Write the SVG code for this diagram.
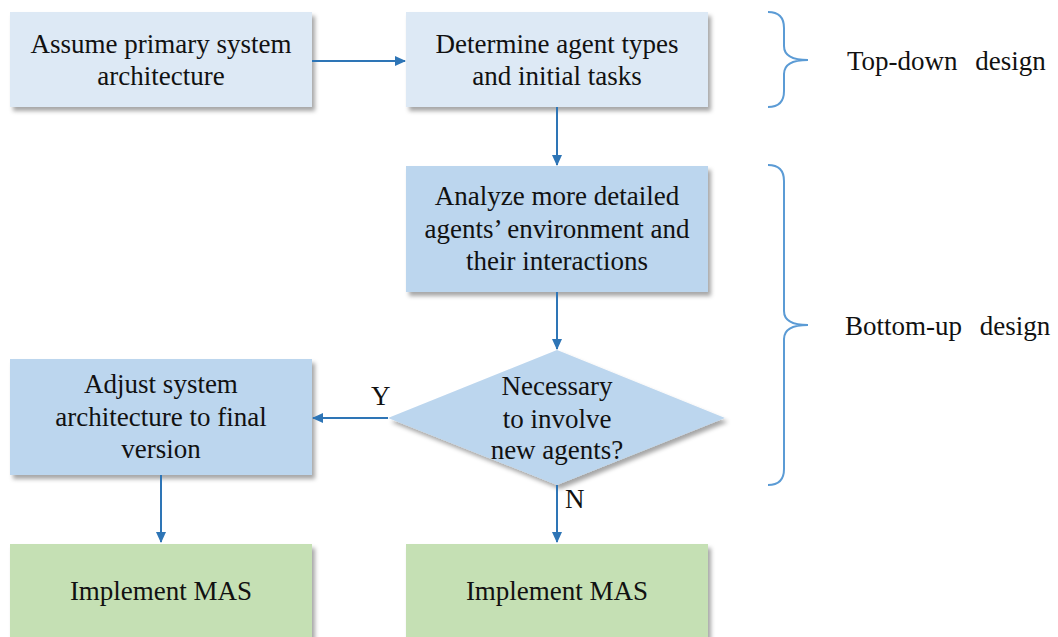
<svg xmlns="http://www.w3.org/2000/svg" width="1058" height="637" viewBox="0 0 1058 637">
  <style>
    text { font-family: 'Liberation Serif', 'Times New Roman', Times, 'DejaVu Serif', serif; font-size: 27px; fill: #111; }
    .t { text-anchor: middle; }
    .light { fill: #dde9f5; }
    .mid { fill: #bcd6ee; }
    .green { fill: #c5e0b4; }
    .conn { stroke: #2e75b6; stroke-width: 2; fill: none; marker-end: url(#arr); }
    .brace { stroke: #5b9bd5; stroke-width: 2; fill: none; }
    .phase { word-spacing: 11px; }
  </style>
  <defs>
    <filter id="sh" x="-10%" y="-10%" width="125%" height="130%">
      <feDropShadow dx="3" dy="4" stdDeviation="2" flood-color="#000" flood-opacity="0.35"/>
    </filter>
    <marker id="arr" markerWidth="12" markerHeight="12" refX="10" refY="5" orient="auto" markerUnits="userSpaceOnUse">
      <path d="M0,0 L11,5 L0,10 Z" fill="#2e75b6"/>
    </marker>
  </defs>

  <!-- process boxes -->
  <g id="assume">
    <rect class="light" x="10" y="12" width="302" height="95" filter="url(#sh)"/>
    <text class="t" x="161" y="53">Assume primary system</text>
    <text class="t" x="161" y="85">architecture</text>
  </g>
  <g id="determine">
    <rect class="light" x="406" y="12" width="302" height="95" filter="url(#sh)"/>
    <text class="t" x="557" y="53">Determine agent types</text>
    <text class="t" x="557" y="85">and initial tasks</text>
  </g>
  <g id="analyze">
    <rect class="mid" x="406" y="166" width="302" height="126" filter="url(#sh)"/>
    <text class="t" x="557" y="205">Analyze more detailed</text>
    <text class="t" x="557" y="238">agents’ environment and</text>
    <text class="t" x="557" y="270">their interactions</text>
  </g>
  <g id="decision">
    <polygon class="mid" points="557,350 725,418 557,485 388,418" filter="url(#sh)"/>
    <text class="t" x="557" y="395">Necessary</text>
    <text class="t" x="557" y="428">to involve</text>
    <text class="t" x="557" y="459">new agents?</text>
  </g>
  <g id="adjust">
    <rect class="mid" x="10" y="359" width="302" height="116" filter="url(#sh)"/>
    <text class="t" x="161" y="393">Adjust system</text>
    <text class="t" x="161" y="426">architecture to final</text>
    <text class="t" x="161" y="458">version</text>
  </g>
  <g id="implement-left">
    <rect class="green" x="10" y="544" width="302" height="100" filter="url(#sh)"/>
    <text class="t" x="161" y="600">Implement MAS</text>
  </g>
  <g id="implement-right">
    <rect class="green" x="406" y="544" width="302" height="100" filter="url(#sh)"/>
    <text class="t" x="557" y="600">Implement MAS</text>
  </g>

  <!-- connectors -->
  <g id="connectors">
    <line class="conn" x1="312" y1="61" x2="405" y2="61"/>
    <line class="conn" x1="557" y1="107" x2="557" y2="165"/>
    <line class="conn" x1="557" y1="292" x2="557" y2="349"/>
    <line class="conn" x1="388" y1="418" x2="313" y2="418"/>
    <line class="conn" x1="557" y1="485" x2="557" y2="542"/>
    <line class="conn" x1="161" y1="475" x2="161" y2="542"/>
    <text x="371" y="405">Y</text>
    <text x="565" y="508">N</text>
  </g>

  <!-- phase braces -->
  <g id="top-down">
    <path class="brace" d="M768,12 Q784,12 784,28 L784,46 Q784,60 808,60 Q784,60 784,74 L784,91 Q784,107 768,107"/>
    <text class="phase" x="847" y="70">Top-down design</text>
  </g>
  <g id="bottom-up">
    <path class="brace" d="M768,165 Q784,165 784,181 L784,311 Q784,325 808,325 Q784,325 784,339 L784,469 Q784,485 768,485"/>
    <text class="phase" x="845" y="335">Bottom-up design</text>
  </g>
</svg>
